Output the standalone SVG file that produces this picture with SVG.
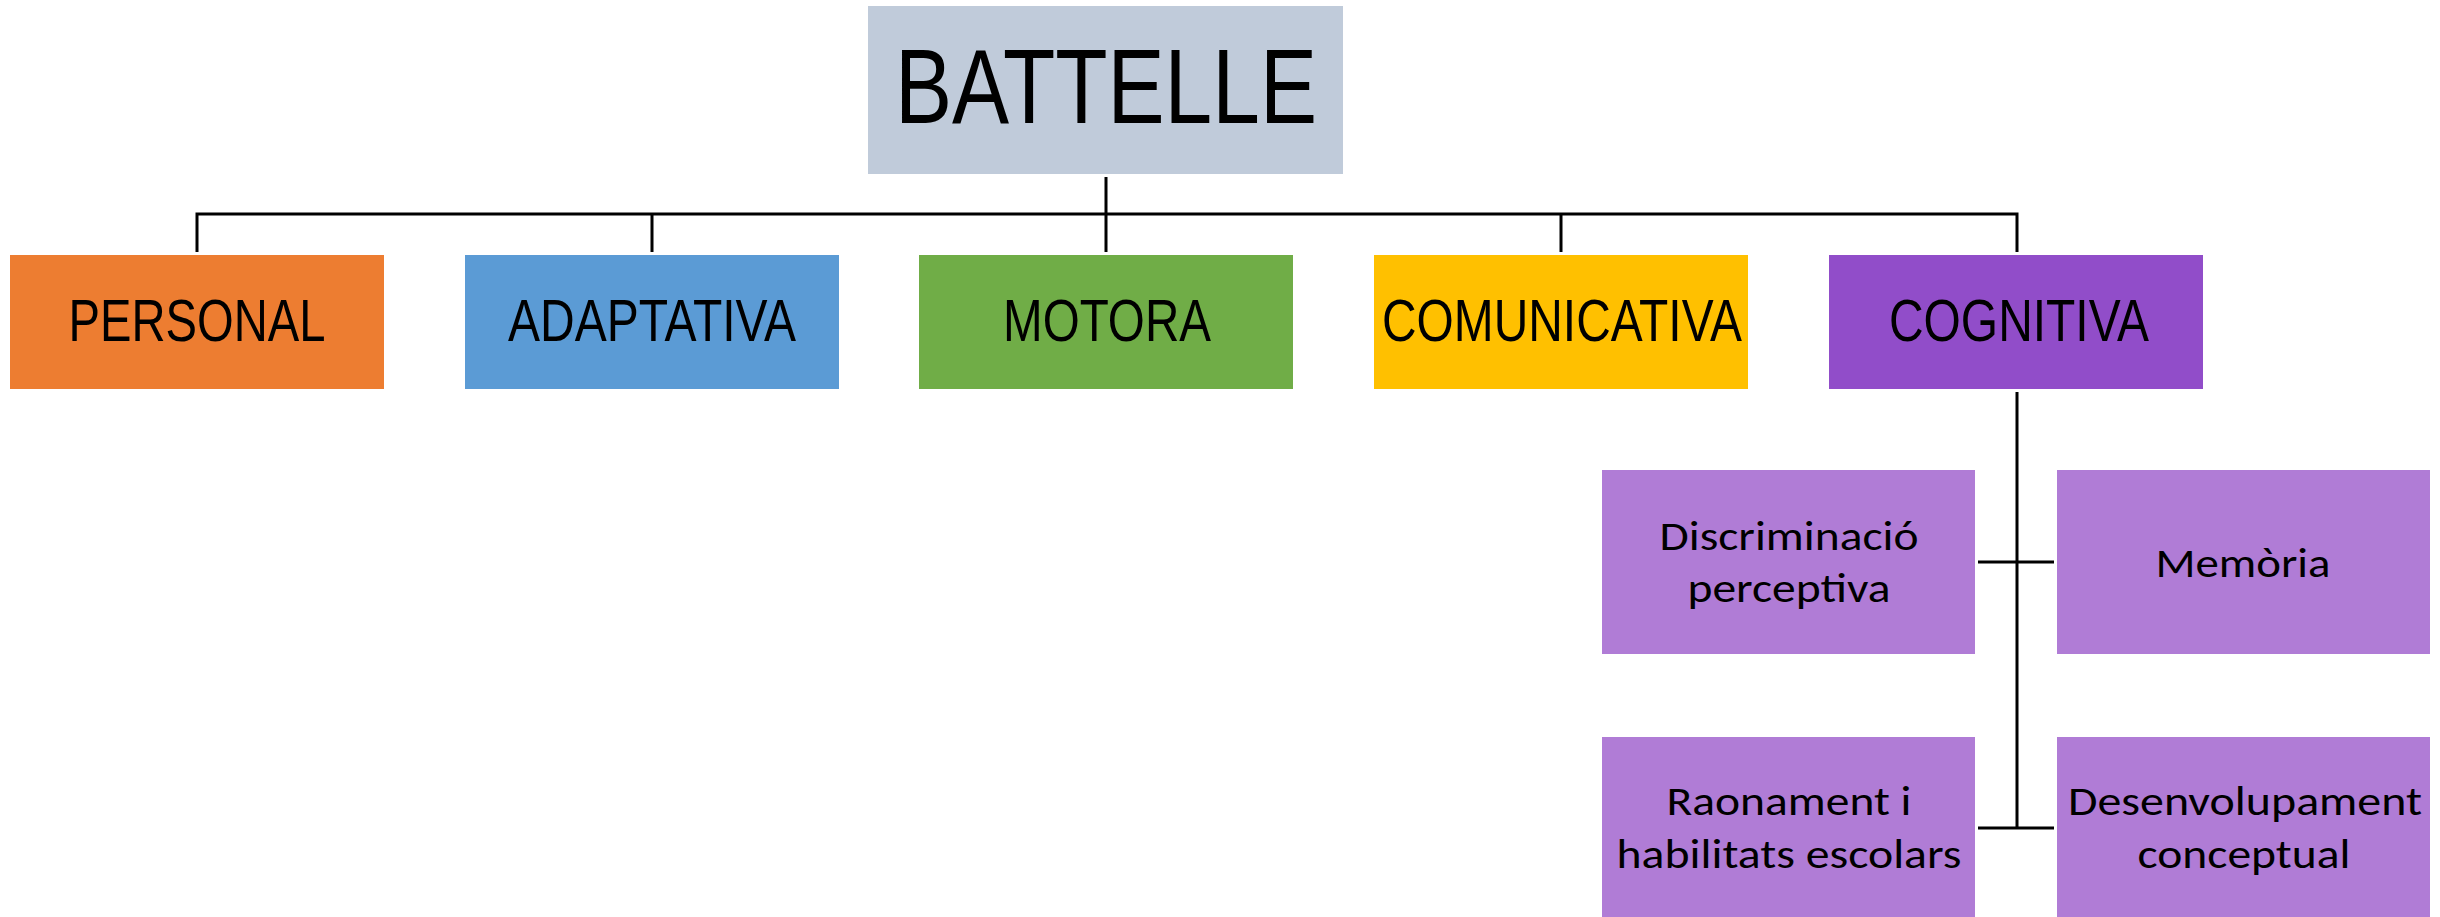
<svg xmlns="http://www.w3.org/2000/svg" width="2440" height="917" viewBox="0 0 2440 917">
<style>
.t{font-family:"Liberation Sans",Arial,sans-serif;fill:#000;text-anchor:middle}
.s{font-family:Carlito,Lato,"Open Sans",sans-serif;font-size:41px;fill:#000;text-anchor:middle}
.c{stroke:#000;stroke-width:3;fill:none}
.sub{fill:#B07CD6}
</style>
<rect width="2440" height="917" fill="#fff"/>
<g id="connectors">
<path class="c" d="M1106 177V252M197 252V214H2017V252M652 214V252M1561 214V252"/>
<path class="c" d="M2017 392V828M1978 562H2054M1978 828H2054"/>
</g>
<g id="battelle">
<rect x="868" y="6" width="475" height="168" fill="#C0CBDA"/>
<text class="t" x="1106" y="123" font-size="106" textLength="422" lengthAdjust="spacingAndGlyphs">BATTELLE</text>
</g>
<g id="personal">
<rect x="10" y="255" width="374" height="134" fill="#ED7D31"/>
<text class="t" x="197" y="341" font-size="60" textLength="257" lengthAdjust="spacingAndGlyphs">PERSONAL</text>
</g>
<g id="adaptativa">
<rect x="465" y="255" width="374" height="134" fill="#5B9BD5"/>
<text class="t" x="652" y="341" font-size="60" textLength="288" lengthAdjust="spacingAndGlyphs">ADAPTATIVA</text>
</g>
<g id="motora">
<rect x="919" y="255" width="374" height="134" fill="#70AD47"/>
<text class="t" x="1107" y="341" font-size="60" textLength="208" lengthAdjust="spacingAndGlyphs">MOTORA</text>
</g>
<g id="comunicativa">
<rect x="1374" y="255" width="374" height="134" fill="#FFC000"/>
<text class="t" x="1562" y="341" font-size="60" textLength="360" lengthAdjust="spacingAndGlyphs">COMUNICATIVA</text>
</g>
<g id="cognitiva">
<rect x="1829" y="255" width="374" height="134" fill="#914DC9"/>
<text class="t" x="2019" y="341" font-size="60" textLength="260" lengthAdjust="spacingAndGlyphs">COGNITIVA</text>
</g>
<g id="discriminacio">
<rect class="sub" x="1602" y="470" width="373" height="184"/>
<text class="s" x="1789" y="550" textLength="259" lengthAdjust="spacingAndGlyphs">Discriminació</text>
<text class="s" x="1789" y="602" textLength="203" lengthAdjust="spacingAndGlyphs">perceptiva</text>
</g>
<g id="memoria">
<rect class="sub" x="2057" y="470" width="373" height="184"/>
<text class="s" x="2243" y="577" textLength="175" lengthAdjust="spacingAndGlyphs">Memòria</text>
</g>
<g id="raonament">
<rect class="sub" x="1602" y="737" width="373" height="184"/>
<text class="s" x="1789" y="815" textLength="245" lengthAdjust="spacingAndGlyphs">Raonament i</text>
<text class="s" x="1789" y="868" textLength="345" lengthAdjust="spacingAndGlyphs">habilitats escolars</text>
</g>
<g id="desenvolupament">
<rect class="sub" x="2057" y="737" width="373" height="184"/>
<text class="s" x="2245" y="815" textLength="354" lengthAdjust="spacingAndGlyphs">Desenvolupament</text>
<text class="s" x="2244" y="868" textLength="213" lengthAdjust="spacingAndGlyphs">conceptual</text>
</g>
</svg>
